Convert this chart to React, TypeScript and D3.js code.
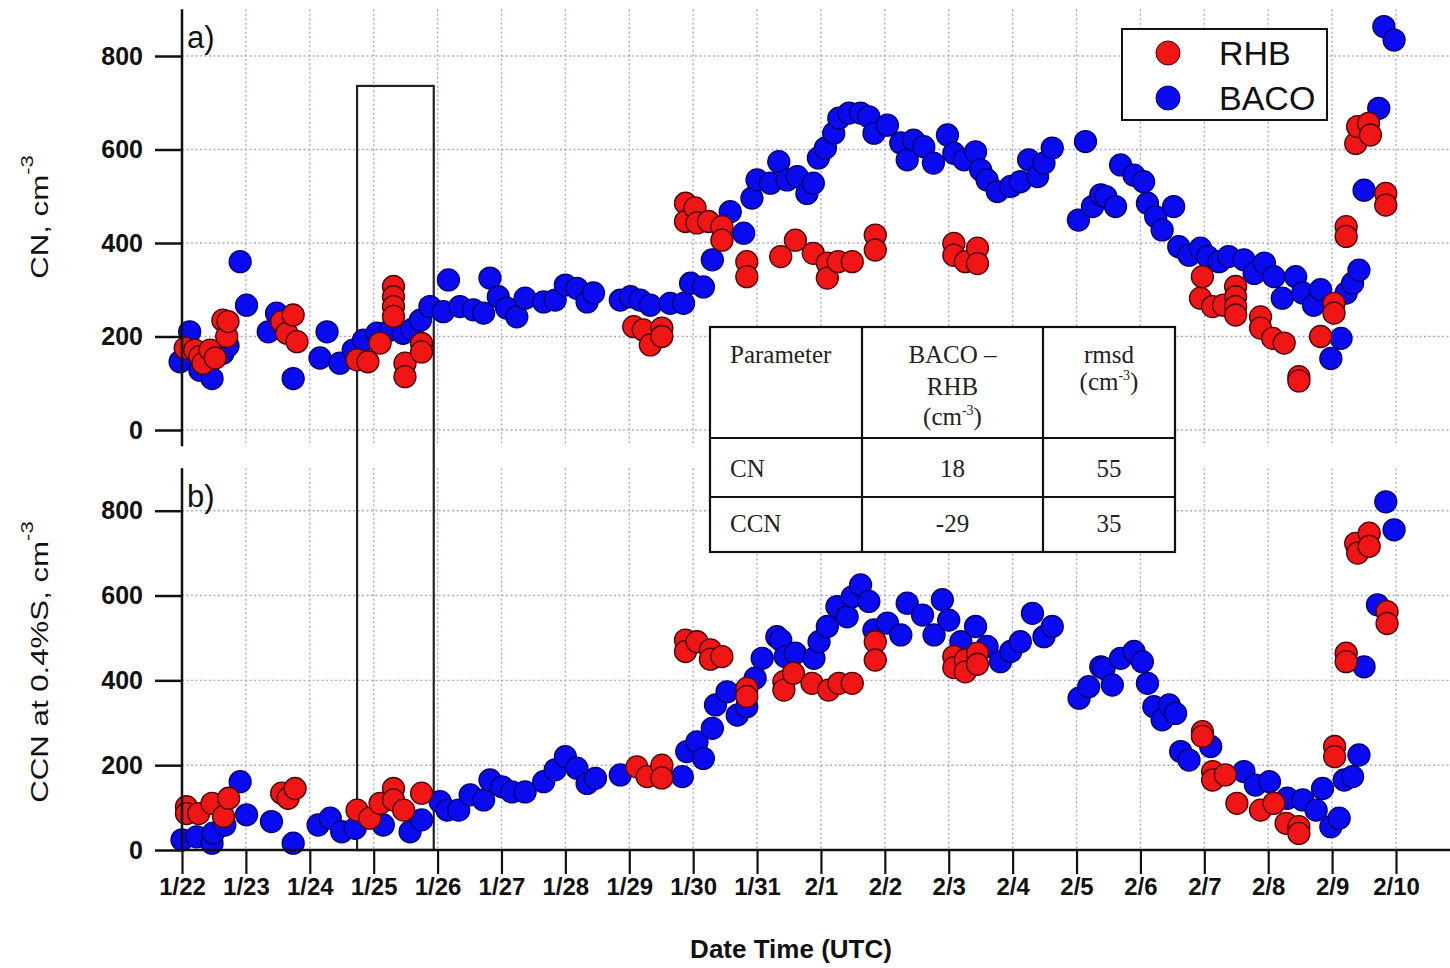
import React, { useEffect, useRef } from 'react';
import * as d3 from 'd3';

// time = days since 2020-01-22 00:00 UTC, value = number concentration (cm-3)
const rhbCN: [number, number][] = [
  [0.05, 175], [0.2, 171], [0.28, 157], [0.33, 143], [0.44, 171], [0.52, 154], [0.64, 235], [0.7, 200], [0.72, 232],
  [1.56, 232], [1.64, 207], [1.74, 246], [1.8, 189],
  [2.74, 150], [2.91, 146], [3.1, 186], [3.31, 307], [3.31, 285], [3.31, 264], [3.31, 243], [3.49, 143], [3.49, 114],
  [3.75, 185], [3.75, 167],
  [7.07, 221], [7.22, 214], [7.33, 182], [7.51, 218], [7.51, 200],
  [7.88, 485], [7.88, 446], [8.03, 475], [8.06, 443], [8.24, 446], [8.45, 435], [8.45, 406], [8.84, 360], [8.84, 328],
  [9.37, 371], [9.6, 406], [9.88, 378], [10.1, 357], [10.1, 325], [10.27, 360], [10.49, 360], [10.85, 417], [10.85, 385],
  [12.08, 399], [12.08, 374], [12.26, 360], [12.45, 389], [12.45, 356],
  [15.94, 282], [15.97, 328], [16.13, 264], [16.3, 267], [16.49, 307], [16.49, 285], [16.49, 264], [16.49, 246],
  [16.88, 242], [16.88, 218], [17.07, 196], [17.25, 186], [17.48, 114], [17.48, 105], [17.82, 200],
  [18.03, 271], [18.03, 250], [18.22, 435], [18.22, 414], [18.37, 613], [18.4, 649], [18.57, 656], [18.6, 631],
  [18.84, 506], [18.84, 481],
];

const bacoCN: [number, number][] = [
  [-0.03, 146], [0.12, 210], [0.28, 128], [0.47, 110], [0.64, 164], [0.72, 180], [0.91, 360], [1.01, 267],
  [1.35, 210], [1.48, 250], [1.74, 110], [2.16, 154], [2.27, 210], [2.47, 143], [2.68, 171], [2.84, 192],
  [3.05, 207], [3.26, 214], [3.46, 207], [3.6, 215], [3.73, 235], [3.88, 264], [4.09, 253], [4.17, 321],
  [4.35, 264], [4.56, 257], [4.72, 250], [4.82, 325], [4.95, 285], [5.08, 261], [5.24, 242], [5.37, 282],
  [5.66, 274], [5.84, 278], [6.0, 310], [6.18, 303], [6.34, 274], [6.44, 293], [6.86, 278], [7.02, 285],
  [7.17, 278], [7.33, 267], [7.64, 271], [7.85, 271], [7.96, 314], [8.16, 306], [8.3, 364], [8.58, 467],
  [8.79, 421], [8.92, 496], [9.0, 535], [9.21, 528], [9.34, 574], [9.47, 535], [9.63, 542], [9.78, 506],
  [9.88, 528], [9.96, 582], [10.07, 603], [10.2, 635], [10.28, 667], [10.44, 678], [10.62, 678], [10.75, 670],
  [10.83, 635], [11.04, 652], [11.25, 614], [11.35, 578], [11.45, 620], [11.61, 606], [11.76, 571], [11.98, 631],
  [12.08, 592], [12.24, 578], [12.42, 595], [12.5, 556], [12.6, 535], [12.76, 510], [12.97, 521], [13.12, 531],
  [13.25, 578], [13.39, 542], [13.49, 571], [13.62, 603], [14.03, 449], [14.14, 617], [14.25, 478], [14.38, 503],
  [14.46, 499], [14.61, 478], [14.69, 567], [14.9, 545], [15.05, 531], [15.11, 485], [15.24, 456], [15.34, 428],
  [15.52, 478], [15.6, 392], [15.76, 374], [15.94, 389], [16.05, 371], [16.23, 360], [16.38, 371], [16.62, 364],
  [16.78, 335], [16.94, 357], [17.09, 328], [17.22, 282], [17.43, 328], [17.54, 293], [17.71, 267], [17.82, 300],
  [17.98, 153], [18.14, 196], [18.22, 293], [18.32, 314], [18.42, 342], [18.5, 513], [18.73, 688], [18.81, 863],
  [18.97, 834],
];

const rhbCCN: [number, number][] = [
  [0.07, 102], [0.07, 86], [0.26, 86], [0.47, 110], [0.65, 79], [0.73, 122],
  [1.56, 134], [1.66, 122], [1.77, 145],
  [2.74, 94], [2.94, 75], [3.1, 110], [3.31, 145], [3.31, 118], [3.47, 94], [3.75, 134],
  [7.12, 196], [7.28, 173], [7.51, 200], [7.51, 170],
  [7.88, 495], [7.88, 468], [8.06, 491], [8.27, 472], [8.27, 450], [8.45, 456], [8.84, 381], [8.84, 362],
  [9.42, 397], [9.42, 377], [9.57, 417], [9.86, 393], [10.12, 377], [10.28, 393], [10.49, 393], [10.85, 491], [10.85, 448],
  [12.08, 456], [12.08, 430], [12.26, 448], [12.26, 420], [12.45, 464], [12.45, 438],
  [15.97, 279], [15.97, 268], [16.13, 185], [16.13, 165], [16.33, 177], [16.51, 110], [16.88, 94], [17.09, 110],
  [17.28, 63], [17.48, 55], [17.48, 39], [18.04, 244], [18.04, 220], [18.22, 464], [18.22, 444],
  [18.37, 723], [18.4, 700], [18.58, 747], [18.58, 716], [18.86, 562], [18.86, 534],
];

const bacoCCN: [number, number][] = [
  [0.0, 24], [0.23, 31], [0.47, 16], [0.49, 40], [0.67, 59], [0.91, 161], [1.01, 83], [1.4, 67], [1.74, 16],
  [2.13, 59], [2.32, 75], [2.5, 43], [2.71, 51], [3.15, 59], [3.57, 43], [3.75, 71], [4.04, 114], [4.15, 94],
  [4.33, 94], [4.51, 130], [4.72, 118], [4.82, 165], [5.01, 149], [5.16, 137], [5.37, 137], [5.66, 161],
  [5.84, 189], [6.0, 220], [6.18, 193], [6.34, 157], [6.47, 169], [6.86, 177], [7.83, 173], [7.9, 232],
  [8.06, 255], [8.16, 216], [8.3, 287], [8.35, 342], [8.53, 373], [8.69, 318], [8.84, 338], [8.97, 405],
  [9.08, 452], [9.31, 503], [9.37, 495], [9.44, 456], [9.6, 464], [9.89, 452], [9.97, 491], [10.1, 527],
  [10.25, 574], [10.41, 550], [10.49, 597], [10.62, 625], [10.75, 586], [10.83, 519], [11.04, 535], [11.25, 507],
  [11.35, 582], [11.59, 554], [11.77, 507], [11.9, 590], [12.0, 542], [12.19, 491], [12.42, 527], [12.6, 480],
  [12.81, 444], [12.97, 468], [13.12, 491], [13.31, 558], [13.49, 503], [13.62, 527], [14.04, 358], [14.19, 385],
  [14.38, 432], [14.43, 428], [14.56, 389], [14.69, 452], [14.9, 468], [15.03, 444], [15.11, 393], [15.21, 338],
  [15.34, 307], [15.45, 342], [15.55, 322], [15.63, 232], [15.76, 212], [16.1, 244], [16.62, 185], [16.8, 153],
  [17.02, 161], [17.3, 122], [17.54, 118], [17.75, 94], [17.85, 145], [17.98, 55], [18.11, 75], [18.19, 165],
  [18.32, 173], [18.42, 224], [18.5, 432], [18.71, 578], [18.84, 821], [18.97, 755],
];

const yTicks = [0, 200, 400, 600, 800];
const seriesNames = ['RHB', 'BACO'];
const seriesFill = ['#f01616', '#0a0af0'];
const seriesStroke = ['#4a0000', '#000070'];
// highlighted period (days since 1/22) and top of the box (CN units)
const boxSpan = [2.74, 3.94];
const boxTop = 736;
const tableCols = ['Parameter', 'BACO –|RHB|(cm^-3)', 'rmsd|(cm^-3)'];
const tableRows = [
  ['CN', '18', '55'],
  ['CCN', '-29', '35'],
];

const SANS = 'Liberation Sans, Arial, Helvetica, sans-serif';
const SERIF = 'Liberation Serif, Times New Roman, serif';

const Chart = () => {
  const ref = useRef<SVGSVGElement | null>(null);

  useEffect(() => {
    if (!ref.current) return;
    const svg = d3.select(ref.current);
    svg.selectAll('*').remove();

    const t0 = Date.UTC(2020, 0, 22);
    const toDate = (d: number) => new Date(t0 + d * 864e5);
    const left = 182;
    const right = 1450;

    const x = d3.scaleUtc().domain([toDate(0), toDate(19)]).range([left, 1396]);
    const yA = d3.scaleLinear().domain([0, 800]).range([430, 56]);
    const yB = d3.scaleLinear().domain([0, 800]).range([850, 510.7]);
    const days = d3.utcDay.range(toDate(0), toDate(19.5));

    const panels = [
      { y: yA, lo: -35, rhb: rhbCN, baco: bacoCN, tag: 'a)' },
      { y: yB, lo: 0, rhb: rhbCCN, baco: bacoCCN, tag: 'b)' },
    ];

    // grid
    panels.forEach((p) => {
      const g = svg.append('g')
        .attr('stroke', '#a9a9d4')
        .attr('stroke-width', 1.4)
        .attr('stroke-dasharray', '2,2.5');
      g.selectAll('line.v').data(days).join('line')
        .attr('x1', (d) => x(d)).attr('x2', (d) => x(d))
        .attr('y1', p.y(900)).attr('y2', p.y(p.lo));
      g.selectAll('line.h').data(yTicks).join('line')
        .attr('x1', left).attr('x2', right)
        .attr('y1', (d) => p.y(d)).attr('y2', (d) => p.y(d));
    });

    // highlight box spanning both panels
    svg.append('rect')
      .attr('x', x(toDate(boxSpan[0])))
      .attr('y', yA(boxTop))
      .attr('width', x(toDate(boxSpan[1])) - x(toDate(boxSpan[0])))
      .attr('height', yB(0) - yA(boxTop))
      .attr('fill', 'none')
      .attr('stroke', '#222')
      .attr('stroke-width', 2.2);

    // points
    panels.forEach((p) => {
      [p.baco, p.rhb].forEach((data, i) => {
        const k = i === 0 ? 1 : 0;
        svg.append('g').selectAll('circle').data(data).join('circle')
          .attr('cx', (d) => x(toDate(d[0])))
          .attr('cy', (d) => p.y(d[1]))
          .attr('r', 11)
          .attr('fill', seriesFill[k])
          .attr('stroke', seriesStroke[k])
          .attr('stroke-width', 1.3);
      });
    });

    // y axes
    panels.forEach((p) => {
      const g = svg.append('g')
        .attr('transform', `translate(${left},0)`)
        .call(d3.axisLeft(p.y).tickValues(yTicks).tickSize(27).tickPadding(12).tickFormat(d3.format('d')));
      g.select('.domain').remove();
      g.selectAll('line').attr('stroke', '#111').attr('stroke-width', 2.5);
      g.selectAll('text')
        .attr('font-family', SANS).attr('font-size', 25).attr('font-weight', 'bold').attr('fill', '#111');
      svg.append('line')
        .attr('x1', left).attr('x2', left)
        .attr('y1', p.y(900)).attr('y2', p.y(p.lo))
        .attr('stroke', '#111').attr('stroke-width', 2.5);
      svg.append('text')
        .attr('x', left + 5).attr('y', p.y(900) + 39)
        .attr('font-family', SANS).attr('font-size', 31).attr('fill', '#111')
        .text(p.tag);
    });

    // x axis
    const gx = svg.append('g')
      .attr('transform', `translate(0,${yB(0)})`)
      .call(d3.axisBottom(x).tickValues(days).tickSize(24).tickPadding(4).tickFormat(d3.utcFormat('%-m/%-d') as any));
    gx.select('.domain').remove();
    gx.selectAll('line').attr('stroke', '#111').attr('stroke-width', 2.2);
    gx.selectAll('text')
      .attr('font-family', SANS).attr('font-size', 24).attr('font-weight', 'bold').attr('fill', '#111');
    svg.append('line')
      .attr('x1', left).attr('x2', right).attr('y1', yB(0)).attr('y2', yB(0))
      .attr('stroke', '#111').attr('stroke-width', 2.5);

    svg.append('text')
      .attr('x', 791).attr('y', 958).attr('text-anchor', 'middle')
      .attr('font-family', SANS).attr('font-size', 26).attr('font-weight', 'bold').attr('fill', '#111')
      .text('Date Time (UTC)');

    // y titles, stretched along the text a little like the original
    const yTitle = (label: string, cx: number, cy: number, sx: number) => {
      const t = svg.append('text')
        .attr('transform', `translate(${cx},${cy}) rotate(-90) scale(${sx},1)`)
        .attr('text-anchor', 'middle')
        .attr('font-family', SANS).attr('font-size', 24).attr('fill', '#111');
      t.append('tspan').text(label);
      t.append('tspan').attr('font-size', 17).attr('dy', -15).text('-3');
    };
    yTitle('CN, cm', 48, 217, 1.3);
    yTitle('CCN at 0.4%S, cm', 48, 662, 1.3);

    // legend
    const lg = svg.append('g');
    lg.append('rect')
      .attr('x', 1122).attr('y', 29).attr('width', 205).attr('height', 91)
      .attr('fill', '#fff').attr('stroke', '#111').attr('stroke-width', 2);
    seriesNames.forEach((name, i) => {
      lg.append('circle')
        .attr('cx', 1168).attr('cy', 53 + i * 45).attr('r', 12)
        .attr('fill', seriesFill[i]).attr('stroke', seriesStroke[i]).attr('stroke-width', 1);
      lg.append('text')
        .attr('x', 1219).attr('y', 65 + i * 45)
        .attr('font-family', SANS).attr('font-size', 34).attr('fill', '#111')
        .text(name);
    });

    // statistics table
    const tx = [710, 862, 1043, 1175];
    const ty = [327, 438, 497, 552];
    const tg = svg.append('g').attr('font-family', SERIF).attr('font-size', 25).attr('fill', '#222');
    tg.append('rect')
      .attr('x', tx[0]).attr('y', ty[0]).attr('width', tx[3] - tx[0]).attr('height', ty[3] - ty[0])
      .attr('fill', '#fff').attr('stroke', '#111').attr('stroke-width', 2.2);
    [1, 2].forEach((i) => {
      tg.append('line').attr('x1', tx[i]).attr('x2', tx[i]).attr('y1', ty[0]).attr('y2', ty[3])
        .attr('stroke', '#111').attr('stroke-width', 2.2);
      tg.append('line').attr('x1', tx[0]).attr('x2', tx[3]).attr('y1', ty[i]).attr('y2', ty[i])
        .attr('stroke', '#111').attr('stroke-width', 2.2);
    });
    const cellText = (s: string, cx: number, by: number, anchor: string) => {
      const t = tg.append('text').attr('x', cx).attr('y', by).attr('text-anchor', anchor);
      const m = s.match(/^(.*)\^(-?\d+)(.*)$/);
      if (m) {
        t.append('tspan').text(m[1]);
        t.append('tspan').attr('font-size', 14).attr('dy', -10).text(m[2]);
        t.append('tspan').attr('dy', 10).text(m[3]);
      } else {
        t.text(s);
      }
    };
    const lineStep = [0, 32, 30];
    tableCols.forEach((c, j) => {
      const lines = c.split('|');
      const cx = j === 0 ? 730 : (tx[j] + tx[j + 1]) / 2;
      let by = 363;
      lines.forEach((ln, k) => {
        if (k > 0) by += j === 1 ? lineStep[k] : 27;
        cellText(ln, cx, by, j === 0 ? 'start' : 'middle');
      });
    });
    tableRows.forEach((r, i) => {
      const by = i === 0 ? 477 : 532;
      r.forEach((c, j) => {
        const cx = j === 0 ? 730 : (tx[j] + tx[j + 1]) / 2;
        cellText(c, cx, by, j === 0 ? 'start' : 'middle');
      });
    });
  }, []);

  return (
    <svg
      ref={ref}
      width={1450}
      height={968}
      style={{ position: 'absolute', left: 0, top: 0, background: '#fff' }}
    />
  );
};

export default function App() {
  return <Chart />;
}
